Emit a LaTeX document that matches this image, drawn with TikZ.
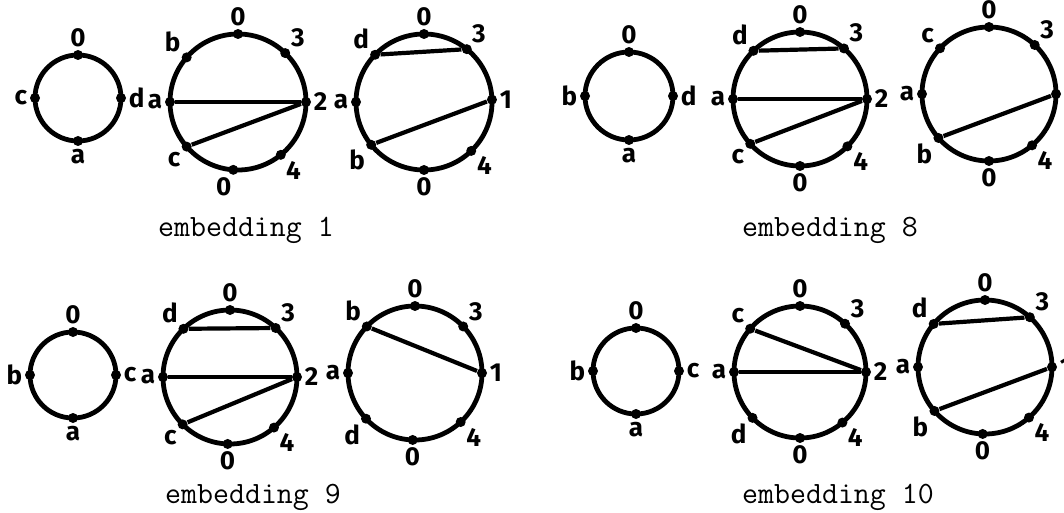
\documentclass[tikz,border=0pt]{standalone}
\usepackage{fontspec}
\newfontfamily\handfont{Fira Sans}
\usepackage{tikz}

\begin{document}
\begin{tikzpicture}[x=0.5pt, y=-0.5pt,
  ring/.style={draw, circle, line width=2.4pt, inner sep=0pt, outer sep=0pt},
  vtx/.style={circle, fill, inner sep=0pt, minimum size=5pt},
  every label/.style={font=\handfont\bfseries\fontsize{13}{13}\selectfont, inner sep=0.5pt},
  label distance=0.5pt,
  chord/.style={line width=2.1pt},
  caption/.style={font=\ttfamily\fontsize{15.5}{16}\selectfont}]
\useasboundingbox (0,0) rectangle (1064,513);

% embedding 1
\node[ring, minimum size=43pt] (q1) at (78,98) {};
\foreach \ang/\nm/\txt in {90/t/0, 180/c/c, 0/d/d, 270/a/a}
  \node[vtx, label={\ang:\txt}] (q1\nm) at (q1.\ang) {};
\node[ring, minimum size=68pt] (p1) at (238,102) {};
\foreach \ang/\nm/\txt in {90/t/0, 139/b/b, 46/3/3, 180/a/a, 0/2/2, 221/c/c, 309/4/4, 266/o/0}
  \node[vtx, label={\ang:\txt}] (p1\nm) at (p1.\ang) {};
\draw[chord] (p1a) -- (p12);
\draw[chord] (p1c) -- (p12);
\node[ring, minimum size=68pt] (r1) at (424,102) {};
\foreach \ang/\nm/\txt in {90/t/0, 136/d/d, 51/3/3, 180/a/a, 2/1/1, 219/b/b, 314/4/4, 270/o/0}
  \node[vtx, label={\ang:\txt}] (r1\nm) at (r1.\ang) {};
\draw[chord] (r1d) -- (r13);
\draw[chord] (r1b) -- (r11);
\node[caption] (cap1) at (246,230) {embedding 1};

% embedding 8
\node[ring, minimum size=44pt] (q8) at (629,96) {};
\foreach \ang/\nm/\txt in {90/t/0, 180/b/b, 0/d/d, 270/a/a}
  \node[vtx, label={\ang:\txt}] (q8\nm) at (q8.\ang) {};
\node[ring, minimum size=67pt] (p8) at (800,99) {};
\foreach \ang/\nm/\txt in {90/t/0, 134/d/d, 49/3/3, 180/a/a, 0/2/2, 222/c/c, 315/4/4, 270/o/0}
  \node[vtx, label={\ang:\txt}] (p8\nm) at (p8.\ang) {};
\draw[chord] (p8d) -- (p83);
\draw[chord] (p8a) -- (p82);
\draw[chord] (p8c) -- (p82);
\node[ring, minimum size=67pt] (r8) at (989,94) {};
\foreach \ang/\nm/\txt in {90/t/0, 137/c/c, 47/3/3, 180/a/a, 221/b/b, 310/4/4, 270/o/0}
  \node[vtx, label={\ang:\txt}] (r8\nm) at (r8.\ang) {};
\node[vtx] (r81) at (r8.0) {};
\draw[chord] (r8b) -- (r81);
\node[caption] (cap8) at (830,230) {embedding 8};

% embedding 9
\node[ring, minimum size=43pt] (q9) at (73,375) {};
\foreach \ang/\nm/\txt in {90/t/0, 180/b/b, 0/c/c, 270/a/a}
  \node[vtx, label={\ang:\txt}] (q9\nm) at (q9.\ang) {};
\node[ring, minimum size=67pt] (p9) at (230,377) {};
\foreach \ang/\nm/\txt in {90/t/0, 134/d/d, 47/3/3, 180/a/a, 0/2/2, 225/c/c, 311/4/4, 268/o/0}
  \node[vtx, label={\ang:\txt}] (p9\nm) at (p9.\ang) {};
\draw[chord] (p9d) -- (p93);
\draw[chord] (p9a) -- (p92);
\draw[chord] (p9c) -- (p92);
\node[ring, minimum size=67pt] (r9) at (415,373) {};
\foreach \ang/\nm/\txt in {90/t/0, 136/b/b, 44/3/3, 180/a/a, 0/1/1, 223/d/d, 313/4/4, 268/o/0}
  \node[vtx, label={\ang:\txt}] (r9\nm) at (r9.\ang) {};
\draw[chord] (r9b) -- (r91);
\node[caption] (cap9) at (253,497) {embedding 9};

% embedding 10
\node[ring, minimum size=43pt] (q10) at (636,371) {};
\foreach \ang/\nm/\txt in {90/t/0, 180/b/b, 0/c/c, 270/a/a}
  \node[vtx, label={\ang:\txt}] (q10\nm) at (q10.\ang) {};
\node[ring, minimum size=66pt] (p10) at (800,372) {};
\foreach \ang/\nm/\txt in {90/t/0, 139/c/c, 47/3/3, 180/a/a, 0/2/2, 224/d/d, 310/4/4, 270/o/0}
  \node[vtx, label={\ang:\txt}] (p10\nm) at (p10.\ang) {};
\draw[chord] (p10c) -- (p102);
\draw[chord] (p10a) -- (p102);
\node[ring, minimum size=67pt] (r10) at (985,367) {};
\foreach \ang/\nm/\txt in {90/t/0, 140/d/d, 48/3/3, 180/a/a, 0/1/1, 221/b/b, 311/4/4, 268/o/0}
  \node[vtx, label={\ang:\txt}] (r10\nm) at (r10.\ang) {};
\draw[chord] (r10d) -- (r103);
\draw[chord] (r10b) -- (r101);
\node[caption] (cap10) at (838,497) {embedding 10};
\end{tikzpicture}
\end{document}
